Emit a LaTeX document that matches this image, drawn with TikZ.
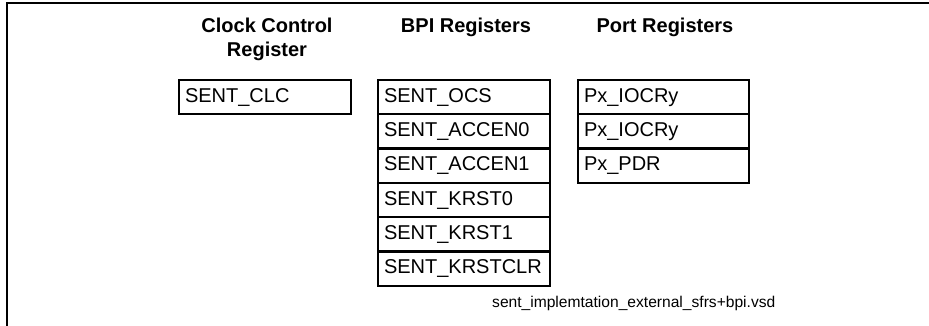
\documentclass[tikz,border=0pt]{standalone}
\usepackage{fontspec}
\setmainfont{Liberation Sans}
\begin{document}
\begin{tikzpicture}[x=1pt,y=-1pt,
  reg/.style={draw, line width=2.4pt, rectangle, anchor=north west, minimum height=34.3pt,
    outer sep=0pt, inner xsep=6pt, inner ysep=0pt, align=left, font=\fontsize{20}{24}\selectfont},
  clcw/.style={text width=160pt, minimum width=172pt},
  bpiw/.style={text width=160pt, minimum width=172pt},
  portw/.style={text width=159pt, minimum width=171pt},
  title/.style={anchor=base, inner sep=0pt, align=center, font=\fontsize{20}{24}\selectfont\bfseries},
  foot/.style={anchor=base west, inner sep=0pt, font=\fontsize{15.6}{18}\selectfont},
  frame/.style={line width=1.3pt}]
\useasboundingbox (0,0) rectangle (929,326);
\coordinate (fbl) at (7,326);
\coordinate (ftl) at (7,3);
\coordinate (ftr) at (929,3);
\draw[frame] (fbl) -- (ftl) -- (ftr);

\node[title] (t1) at (267,57) {Clock Control\\Register};
\node[title] (t2) at (466,33) {BPI Registers};
\node[title] (t3) at (665,33) {Port Registers};

\node[reg, clcw] (clc) at (179,80) {SENT\_CLC};

\node[reg, bpiw] (b1) at (378,80) {SENT\_OCS};
\node[reg, bpiw] (b2) at (b1.south west) {SENT\_ACCEN0};
\node[reg, bpiw] (b3) at (b2.south west) {SENT\_ACCEN1};
\node[reg, bpiw] (b4) at (b3.south west) {SENT\_KRST0};
\node[reg, bpiw] (b5) at (b4.south west) {SENT\_KRST1};
\node[reg, bpiw] (b6) at (b5.south west) {SENT\_KRSTCLR};

\node[reg, portw] (p1) at (578,80) {Px\_IOCRy};
\node[reg, portw] (p2) at (p1.south west) {Px\_IOCRy};
\node[reg, portw] (p3) at (p2.south west) {Px\_PDR};

\node[foot] (f) at (492,307) {sent\_implemtation\_external\_sfrs+bpi.vsd};
\end{tikzpicture}
\end{document}
